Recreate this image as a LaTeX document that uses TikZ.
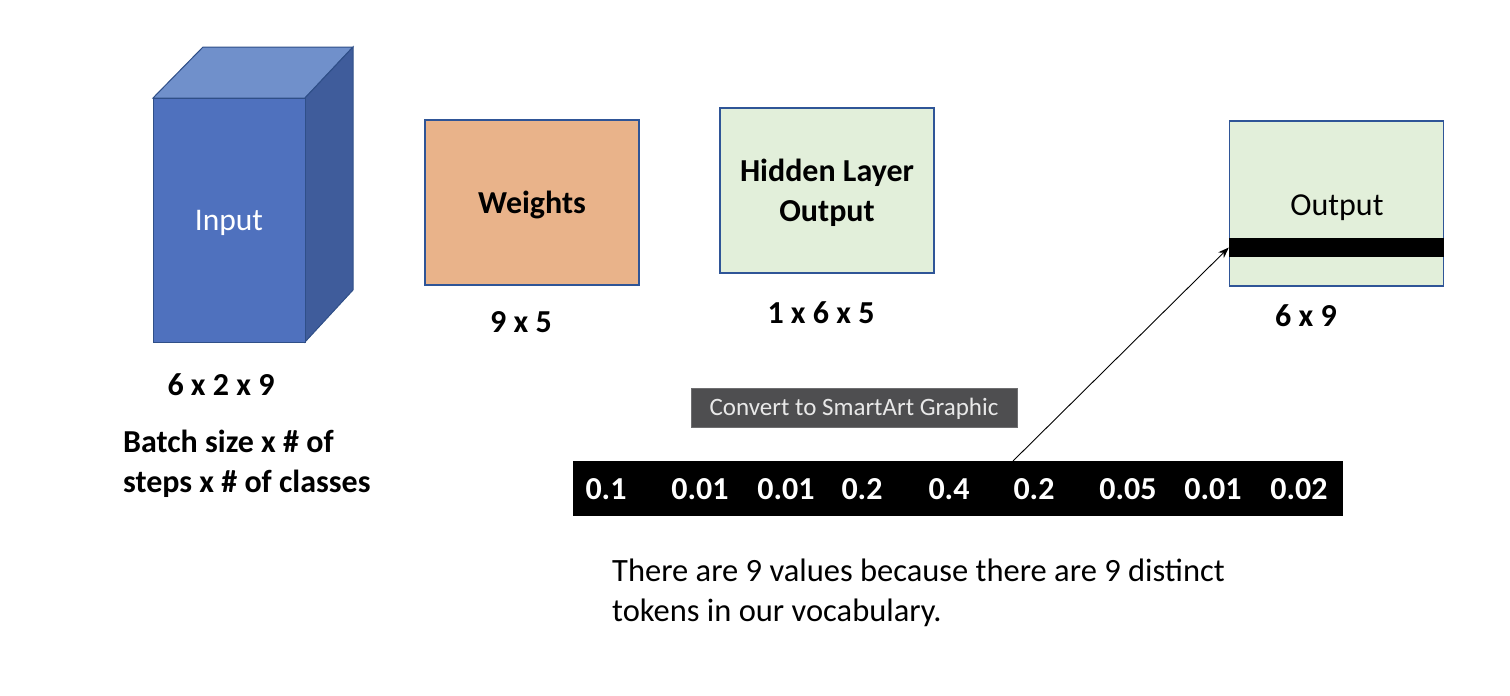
\documentclass[tikz,border=0pt]{standalone}
\usepackage{fontspec}
\setmainfont{Carlito}
\usetikzlibrary{arrows.meta}
\definecolor{cubefront}{HTML}{4F71BE}
\definecolor{cubetop}{HTML}{7090CB}
\definecolor{cubeside}{HTML}{3F5C9B}
\definecolor{cubeedge}{HTML}{2F4F88}
\definecolor{boxedge}{HTML}{2F5597}
\definecolor{weightfill}{HTML}{E9B38A}
\definecolor{greenfill}{HTML}{E2EFDA}
\definecolor{tipfill}{HTML}{4E4E50}
\definecolor{tipedge}{HTML}{6E6E70}
\definecolor{tiptext}{HTML}{E8E8E8}
\tikzset{
  boxnode/.style={draw=boxedge, line width=1.4pt, minimum width=214pt, minimum height=165pt, inner sep=0pt, font=\fontsize{32}{38}\selectfont, align=center},
  dimlabel/.style={font=\fontsize{32}{38}\selectfont\bfseries, inner sep=0pt},
  val/.style={text=white, font=\fontsize{32}{38}\selectfont\bfseries, inner sep=0pt},
  plaintext/.style={font=\fontsize{32.5}{40}\selectfont, align=left, inner sep=0pt}
}
\begin{document}
\begin{tikzpicture}[x=1pt,y=-1pt]
\useasboundingbox (0,0) rectangle (1510,696);
% cube
\fill[cubetop, draw=cubeedge, line width=1pt] (153,98) -- (203,47) -- (353,47) -- (305,98) -- cycle;
\fill[cubeside, draw=cubeedge, line width=1pt] (305,98) -- (353,47) -- (353,290) -- (305,342) -- cycle;
\node[draw=cubeedge, fill=cubefront, line width=1pt, minimum width=152pt, minimum height=244pt, inner sep=0pt] (input) at (229,220) {};
\node[text=white, font=\fontsize{31.5}{38}\selectfont, inner sep=0pt, anchor=base] (inputtext) at (229,230) {Input};
\node[dimlabel] (inputdim) at (221,385) {6 x 2 x 9};
\node[font=\fontsize{32}{40}\selectfont\bfseries, align=left, inner sep=0pt, anchor=base west] (inputdesc) at (123,492) {Batch size x \# of\\steps x \# of classes};
% weights
\node[boxnode, fill=weightfill] (weights) at (532,202.5) {};
\node[font=\fontsize{32}{38}\selectfont\bfseries, inner sep=0pt, anchor=base] (weightstext) at (532,213) {Weights};
\node[dimlabel] (weightsdim) at (521,322) {9 x 5};
% hidden
\node[boxnode, fill=greenfill] (hidden) at (827,190.5) {};
\node[font=\fontsize{32}{39.5}\selectfont\bfseries, align=center, inner sep=0pt, anchor=base] (hiddentext) at (827,221) {Hidden Layer\\Output};
\node[dimlabel] (hiddendim) at (821,313) {1 x 6 x 5};
% output
\node[boxnode, fill=greenfill] (output) at (1336.5,203.5) {};
\node[font=\fontsize{32}{38}\selectfont, inner sep=0pt, anchor=base] (outputtext) at (1337,215) {Output};
\node[fill=black, minimum width=215pt, minimum height=19pt, inner sep=0pt] (outbar) at (1336.5,247.5) {};
\node[dimlabel] (outputdim) at (1306,316) {6 x 9};
% tooltip
\node[fill=tipfill, draw=tipedge, line width=0.8pt, minimum width=326pt, minimum height=39pt, inner sep=0pt] (tooltip) at (854,407.5) {};
\node[text=tiptext, font=\fontsize{25}{30}\selectfont, inner sep=0pt, anchor=base] (tooltiptext) at (854,415) {Convert to SmartArt Graphic};
% value bar
\node[fill=black, minimum width=770pt, minimum height=55pt, inner sep=0pt] (valbar) at (958,488.5) {};
\node[val] (v1) at (606,489) {0.1};
\node[val] (v2) at (700,489) {0.01};
\node[val] (v3) at (786,489) {0.01};
\node[val] (v4) at (862,489) {0.2};
\node[val] (v5) at (949,489) {0.4};
\node[val] (v6) at (1034,489) {0.2};
\node[val] (v7) at (1128,489) {0.05};
\node[val] (v8) at (1213,489) {0.01};
\node[val] (v9) at (1299,489) {0.02};
\coordinate (arrowstart) at (1013,461);
\draw[line width=0.9pt, -{Stealth[length=11pt,width=8pt]}] (arrowstart) -- (outbar.west);
% bottom text
\node[plaintext, anchor=base west] (note) at (612,621) {There are 9 values because there are 9 distinct\\tokens in our vocabulary.};
\end{tikzpicture}
\end{document}
